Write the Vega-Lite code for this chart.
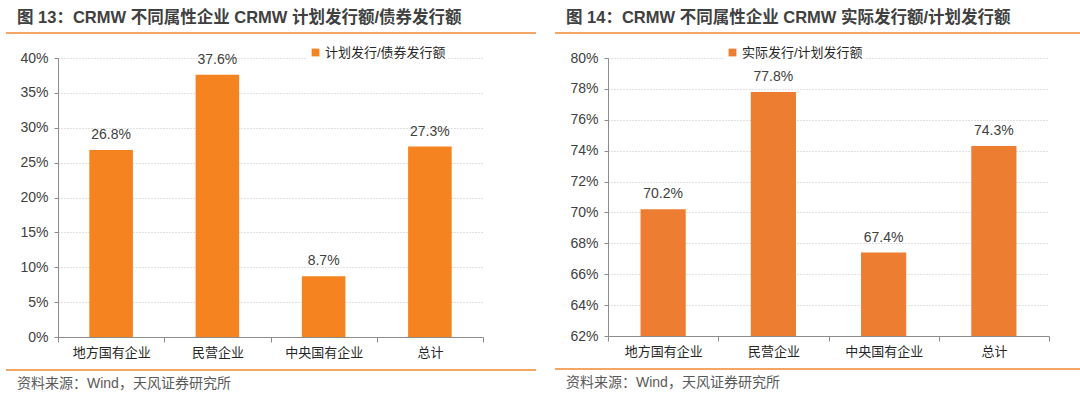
{
  "$schema": "https://vega.github.io/schema/vega-lite/v6.json",
  "background": "white",
  "padding": {"left": 5, "top": 9, "right": 0, "bottom": 0},
  "config": {
    "view": {"stroke": null},
    "font": "Liberation Sans, Noto Sans CJK SC",
    "title": {"font": "Liberation Sans, Noto Sans CJK SC"},
    "axis": {"labelFont": "Liberation Sans, Noto Sans CJK SC"},
    "legend": {"labelFont": "Liberation Sans, Noto Sans CJK SC"},
    "text": {"font": "Liberation Sans, Noto Sans CJK SC"}
  },
  "resolve": {"scale": {"color": "independent"}, "legend": {"color": "independent"}},
  "datasets": {
    "left": [
      {"cat": "地方国有企业", "v": 0.268, "s": "计划发行/债券发行额"},
      {"cat": "民营企业", "v": 0.376, "s": "计划发行/债券发行额"},
      {"cat": "中央国有企业", "v": 0.087, "s": "计划发行/债券发行额"},
      {"cat": "总计", "v": 0.273, "s": "计划发行/债券发行额"}
    ],
    "right": [
      {"cat": "地方国有企业", "v": 0.702, "s": "实际发行/计划发行额"},
      {"cat": "民营企业", "v": 0.778, "s": "实际发行/计划发行额"},
      {"cat": "中央国有企业", "v": 0.674, "s": "实际发行/计划发行额"},
      {"cat": "总计", "v": 0.743, "s": "实际发行/计划发行额"}
    ],
    "sep": [{"sep": 0}],
    "none": []
  },
  "spacing": 17,
  "hconcat": [
    {
      "spacing": 10,
      "resolve": {"scale": {"color": "independent"}, "legend": {"color": "independent"}},
      "vconcat": [
        {
          "width": 530, "height": 1,
          "data": {"name": "sep"},
          "title": {"text": "图 13：CRMW 不同属性企业 CRMW 计划发行额/债券发行额", "anchor": "start", "dx": 12, "fontSize": 16.5, "fontWeight": "bold", "color": "#404040", "offset": 6},
          "mark": {"type": "rule", "color": "#F4A666", "strokeWidth": 2},
          "encoding": {"y": {"field": "sep", "type": "quantitative", "scale": {"domain": [0, 1]}, "axis": null}}
        },
        {
          "spacing": 12,
          "hconcat": [
            {"width": 1, "height": 1, "data": {"name": "none"}, "mark": "text", "encoding": {}},
            {
              "width": 425, "height": 279,
              "data": {"name": "left"},
              "encoding": {
                "x": {"field": "cat", "type": "nominal", "sort": null, "title": null,
                  "scale": {"paddingInner": 0, "paddingOuter": 0},
                  "axis": {"labelAngle": 0, "tickBand": "extent", "domainColor": "#8c8c8c", "tickColor": "#8c8c8c", "tickSize": 5, "labelPadding": 4, "labelFontSize": 13, "labelColor": "#262626", "grid": false}},
                "y": {"field": "v", "type": "quantitative", "title": null,
                  "scale": {"domain": [0, 0.4]},
                  "axis": {"values": [0, 0.05, 0.1, 0.15, 0.2, 0.25, 0.3, 0.35, 0.4], "format": ".0%", "domainColor": "#8c8c8c", "tickColor": "#8c8c8c", "tickSize": 4, "labelPadding": 6, "labelFontSize": 14, "labelColor": "#404040", "gridColor": "#c0c0c0", "gridDash": [1, 2]}}
              },
              "layer": [
                {
                  "mark": {"type": "bar", "width": {"band": 0.41}},
                  "encoding": {"color": {"field": "s", "type": "nominal", "scale": {"range": ["#F5831F"]},
                    "legend": {"title": null, "orient": "none", "legendX": 301, "legendY": -14, "symbolType": "square", "symbolSize": 60, "symbolStrokeWidth": 0, "labelFontSize": 13, "labelColor": "#262626", "fillColor": "white", "padding": 2, "labelOffset": 3}}}
                },
                {
                  "mark": {"type": "text", "dy": -11, "baseline": "alphabetic", "fontSize": 14, "color": "#404040"},
                  "encoding": {"text": {"field": "v", "type": "quantitative", "format": ".1%"}}
                }
              ]
            }
          ]
        },
        {
          "width": 530, "height": 1,
          "data": {"name": "sep"},
          "title": {"text": "资料来源：Wind，天风证券研究所", "orient": "bottom", "anchor": "start", "dx": 12, "fontSize": 14, "fontWeight": "normal", "color": "#595959", "offset": 6},
          "mark": {"type": "rule", "color": "#F4A666", "strokeWidth": 2},
          "encoding": {"y": {"field": "sep", "type": "quantitative", "scale": {"domain": [0, 1]}, "axis": null}}
        }
      ]
    },
    {
      "spacing": 10,
      "resolve": {"scale": {"color": "independent"}, "legend": {"color": "independent"}},
      "vconcat": [
        {
          "width": 528, "height": 1,
          "data": {"name": "sep"},
          "title": {"text": "图 14：CRMW 不同属性企业 CRMW 实际发行额/计划发行额", "anchor": "start", "dx": 12, "fontSize": 16.5, "fontWeight": "bold", "color": "#404040", "offset": 6},
          "mark": {"type": "rule", "color": "#F4A666", "strokeWidth": 2},
          "encoding": {"y": {"field": "sep", "type": "quantitative", "scale": {"domain": [0, 1]}, "axis": null}}
        },
        {
          "spacing": 13,
          "hconcat": [
            {"width": 1, "height": 1, "data": {"name": "none"}, "mark": "text", "encoding": {}},
            {
              "width": 441, "height": 278,
              "data": {"name": "right"},
              "encoding": {
                "x": {"field": "cat", "type": "nominal", "sort": null, "title": null,
                  "scale": {"paddingInner": 0, "paddingOuter": 0},
                  "axis": {"labelAngle": 0, "tickBand": "extent", "domainColor": "#8c8c8c", "tickColor": "#8c8c8c", "tickSize": 5, "labelPadding": 4, "labelFontSize": 13, "labelColor": "#262626", "grid": false}},
                "y": {"field": "v", "type": "quantitative", "title": null,
                  "scale": {"domain": [0.62, 0.8], "zero": false},
                  "axis": {"values": [0.62, 0.64, 0.66, 0.68, 0.7, 0.72, 0.74, 0.76, 0.78, 0.8], "format": ".0%", "domainColor": "#8c8c8c", "tickColor": "#8c8c8c", "tickSize": 4, "labelPadding": 6, "labelFontSize": 14, "labelColor": "#404040", "gridColor": "#c0c0c0", "gridDash": [1, 2]}}
              },
              "layer": [
                {
                  "mark": {"type": "bar", "width": {"band": 0.41}},
                  "encoding": {
                    "y2": {"datum": 0.62},
                    "color": {"field": "s", "type": "nominal", "scale": {"range": ["#ED7D31"]},
                    "legend": {"title": null, "orient": "none", "legendX": 169, "legendY": -14, "symbolType": "square", "symbolSize": 60, "symbolStrokeWidth": 0, "labelFontSize": 13, "labelColor": "#262626", "fillColor": "white", "padding": 2, "labelOffset": 3}}}
                },
                {
                  "mark": {"type": "text", "dy": -11, "baseline": "alphabetic", "fontSize": 14, "color": "#404040"},
                  "encoding": {"text": {"field": "v", "type": "quantitative", "format": ".1%"}}
                }
              ]
            }
          ]
        },
        {
          "width": 528, "height": 1,
          "data": {"name": "sep"},
          "title": {"text": "资料来源：Wind，天风证券研究所", "orient": "bottom", "anchor": "start", "dx": 12, "fontSize": 14, "fontWeight": "normal", "color": "#595959", "offset": 6},
          "mark": {"type": "rule", "color": "#F4A666", "strokeWidth": 2},
          "encoding": {"y": {"field": "sep", "type": "quantitative", "scale": {"domain": [0, 1]}, "axis": null}}
        }
      ]
    }
  ]
}
